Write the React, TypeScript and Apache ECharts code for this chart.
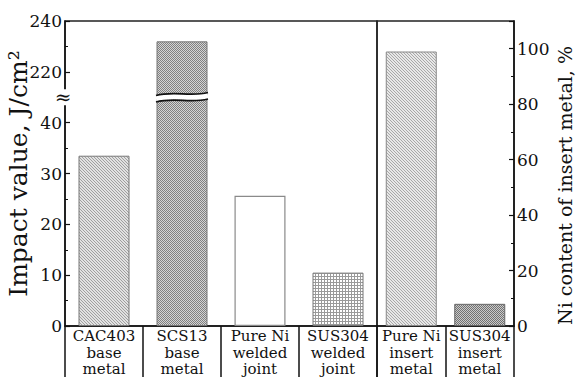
import React, { useEffect, useRef } from 'react';
import * as echarts from 'echarts';

// ---- data ----
const weldCategories = ['CAC403\nbase\nmetal', 'SCS13\nbase\nmetal', 'Pure Ni\nwelded\njoint', 'SUS304\nwelded\njoint'];
const impactValues = [33.5, 232, 25.6, 10.5]; // J/cm2
const insertCategories = ['Pure Ni\ninsert\nmetal', 'SUS304\ninsert\nmetal'];
const niContent = [99, 8]; // %
const breakLow = 40; // axis break from 40 ...
const breakHigh = 220; // ... to 220
const upperTickLabels = [220, 240];

const FONT = 'DejaVu Serif';

// map real impact value to virtual axis (upper section compressed by 2)
const toVirtual = (v: number) => (v <= breakLow ? v : 50 + (v - breakHigh) / 2);
const fromVirtual = (p: number) => (p <= breakLow ? p : breakHigh + (p - 50) * 2);

function makePattern(kind: string) {
  const c = document.createElement('canvas');
  const ctx = c.getContext('2d')!;
  const px = (x: number, y: number, col: string) => { ctx.fillStyle = col; ctx.fillRect(x, y, 1, 1); };
  if (kind === 'fineLight' || kind === 'fineLighter') {
    c.width = 3; c.height = 3;
    ctx.fillStyle = kind === 'fineLight' ? '#e2e2e2' : '#e8e8e8';
    ctx.fillRect(0, 0, 3, 3);
    const d = kind === 'fineLight' ? '#a0a0a0' : '#a8a8a8';
    px(0, 0, d); px(1, 1, d); px(2, 2, d);
  } else if (kind === 'checker' || kind === 'checkerDark') {
    c.width = 2; c.height = 2;
    ctx.fillStyle = kind === 'checker' ? '#d4d4d4' : '#cacaca';
    ctx.fillRect(0, 0, 2, 2);
    const d = kind === 'checker' ? '#808080' : '#727272';
    px(0, 0, d); px(1, 1, d);
  } else if (kind === 'grid') {
    c.width = 3; c.height = 3;
    ctx.fillStyle = '#ffffff';
    ctx.fillRect(0, 0, 3, 3);
    ctx.fillStyle = '#9a9a9a';
    ctx.fillRect(0, 0, 3, 1);
    ctx.fillRect(0, 0, 1, 3);
  }
  return { image: c, repeat: 'repeat' as const };
}

export default function App() {
  const ref = useRef<HTMLDivElement>(null);
  useEffect(() => {
    if (!ref.current) return;
    const chart = echarts.init(ref.current, undefined, { renderer: 'svg' });

    const weldStyles = [
      { color: makePattern('fineLight'), borderColor: '#777', borderWidth: 1 },
      { color: makePattern('checker'), borderColor: '#777', borderWidth: 1 },
      { color: '#ffffff', borderColor: '#8a8a8a', borderWidth: 1.2 },
      { color: makePattern('grid'), borderColor: '#777', borderWidth: 1 },
    ];
    const insertStyles = [
      { color: makePattern('fineLighter'), borderColor: '#888', borderWidth: 1 },
      { color: makePattern('checkerDark'), borderColor: '#666', borderWidth: 1 },
    ];

    const axisLine = { show: true, lineStyle: { color: '#111', width: 1.5 } };
    const catAxis = (gridIndex: number, data: string[]) => ({
      type: 'category',
      gridIndex,
      data,
      axisLine,
      axisTick: { show: true, length: 53, interval: 0, lineStyle: { color: '#111', width: 1.5 } },
      axisLabel: {
        interval: 0,
        margin: 2,
        fontFamily: FONT,
        fontSize: 15,
        lineHeight: 16.5,
        color: '#111',
      },
    });

    const gridBase = {
      top: 21, height: 305, show: true, borderColor: '#222', borderWidth: 1.5,
      backgroundColor: 'transparent', containLabel: false, outerBoundsMode: 'none',
    };

    const option: any = {
      animation: false,
      backgroundColor: '#ffffff',
      textStyle: { fontFamily: FONT },
      grid: [
        { ...gridBase, left: 65, width: 312 },
        { ...gridBase, left: 377, width: 137 },
      ],
      xAxis: [catAxis(0, weldCategories), catAxis(1, insertCategories)],
      yAxis: [
        {
          type: 'value',
          gridIndex: 0,
          position: 'left',
          min: 0,
          max: toVirtual(upperTickLabels[upperTickLabels.length - 1]),
          interval: 10,
          axisLine,
          axisTick: { show: true, inside: true, length: 5, lineStyle: { color: '#111', width: 1.2 } },
          minorTick: { show: true, splitNumber: 2, length: 3, lineStyle: { color: '#111', width: 1 } },
          splitLine: { show: false },
          axisLabel: {
            margin: 3,
            fontFamily: FONT,
            fontSize: 17,
            color: '#111',
            formatter: (p: number) => (p > breakLow && p < 50 ? '' : String(fromVirtual(p))),
          },
          name: 'Impact value, J/cm²',
          nameLocation: 'middle',
          nameRotate: 90,
          nameMoveOverlap: false,
          nameGap: 34,
          nameTextStyle: { fontFamily: FONT, fontSize: 25, color: '#111' },
        },
        {
          type: 'value',
          gridIndex: 1,
          position: 'right',
          min: 0,
          max: 110,
          interval: 20,
          axisLine,
          axisTick: { show: true, inside: true, length: 5, lineStyle: { color: '#111', width: 1.2 } },
          minorTick: { show: true, splitNumber: 2, length: 3, lineStyle: { color: '#111', width: 1 } },
          splitLine: { show: false },
          axisLabel: {
            margin: 3,
            fontFamily: FONT,
            fontSize: 17,
            color: '#111',
            formatter: (v: number) => (v > 100 ? '' : String(v)),
          },
          name: 'Ni content of insert metal, %',
          nameLocation: 'middle',
          nameRotate: 90,
          nameGap: 41,
          nameTextStyle: { fontFamily: FONT, fontSize: 19, color: '#111', padding: [0, 24, 0, 0] },
        },
      ],
      series: [
        {
          type: 'bar',
          xAxisIndex: 0,
          yAxisIndex: 0,
          barWidth: 51,
          data: impactValues.map((v, i) => ({ value: toVirtual(v), itemStyle: weldStyles[i] })),
        },
        {
          type: 'bar',
          xAxisIndex: 1,
          yAxisIndex: 1,
          barWidth: 51,
          data: niContent.map((v, i) => ({ value: v, itemStyle: insertStyles[i] })),
        },
      ],
    };
    chart.setOption(option);

    // break marks computed from the axis scale
    const mid = (breakLow + 50) / 2;
    const [bx, by] = chart.convertToPixel({ xAxisIndex: 0, yAxisIndex: 0 }, [1, mid]) as number[];
    const [c0] = chart.convertToPixel({ xAxisIndex: 0, yAxisIndex: 0 }, [0, mid]) as number[];
    const axisLeft = c0 - (bx - c0) / 2; // grid left edge: first category center minus half a band
    const half = 26;
    const wave = (dy: number) => ({
      x1: bx - half, y1: by + dy + 1.5,
      cpx1: bx - half / 3, cpy1: by + dy - 3.5,
      cpx2: bx + half / 3, cpy2: by + dy + 3,
      x2: bx + half, y2: by + dy - 1.5,
    });
    chart.setOption({
      graphic: [
        { type: 'bezierCurve', shape: wave(0), style: { stroke: '#ffffff', lineWidth: 5.5, fill: null }, z: 100 },
        { type: 'bezierCurve', shape: wave(-3.2), style: { stroke: '#111', lineWidth: 1.7, fill: null }, z: 101 },
        { type: 'bezierCurve', shape: wave(3.2), style: { stroke: '#111', lineWidth: 1.7, fill: null }, z: 101 },
        { type: 'rect', shape: { x: axisLeft - 4, y: by - 8, width: 8, height: 16 }, style: { fill: '#ffffff' }, z: 100 },
        {
          type: 'text', x: axisLeft - 2, y: by, z: 101,
          style: { text: '≈', font: `20px "${FONT}"`, fill: '#111', align: 'center', verticalAlign: 'middle' },
        },
      ],
    });

    return () => chart.dispose();
  }, []);
  return <div ref={ref} style={{ position: 'fixed', left: 0, top: 0, width: 576, height: 377, background: '#fff' }} />;
}
